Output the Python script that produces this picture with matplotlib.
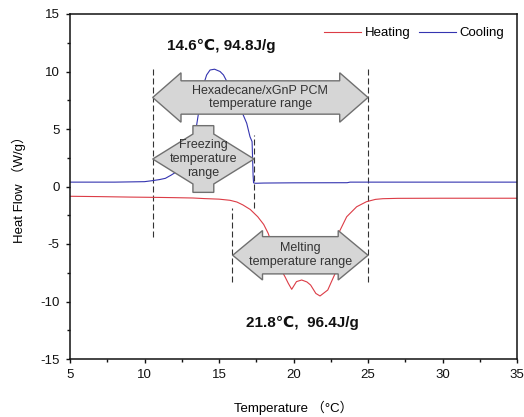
import matplotlib
matplotlib.use("Agg")
import matplotlib.pyplot as plt
from matplotlib.patches import Polygon
from matplotlib.ticker import MultipleLocator

plt.rcParams['font.family'] = ['Liberation Sans', 'DejaVu Sans', 'Noto Sans CJK SC']
plt.rcParams['axes.unicode_minus'] = False

# ---- data ----
cool_T = [5.0, 7.0, 8.0, 9.0, 10.0, 10.48, 11.0, 11.4, 11.8, 12.16, 12.5, 12.9, 13.2, 13.39,
          13.5, 13.7, 13.9, 14.17, 14.4, 14.7, 15.07, 15.3, 15.7, 16.1, 16.5, 16.86, 17.08,
          17.22, 17.26, 17.29, 17.32, 17.45, 18.0, 20.0, 23.6, 23.8, 27.0, 31.0, 35.0]
cool_HF = [0.38, 0.38, 0.38, 0.40, 0.42, 0.50, 0.60, 0.71, 1.00, 1.29, 1.8, 2.8, 3.7, 4.48,
           5.35, 7.0, 8.6, 9.70, 10.13, 10.2, 10.0, 9.70, 8.7, 7.7, 6.6, 5.5, 4.33,
           3.9, 2.2, 0.9, 0.32, 0.28, 0.30, 0.32, 0.33, 0.38, 0.38, 0.38, 0.38]

heat_T = [5.0, 7.0, 9.0, 11.0, 12.0, 13.25, 14.0, 15.0, 15.74, 16.2, 16.6, 17.1, 17.6, 18.0,
          18.3, 18.6, 18.9, 19.2, 19.45, 19.65, 19.88, 20.2, 20.55, 20.9, 21.15, 21.5, 21.78,
          22.05, 22.3, 22.55, 22.8, 22.95, 23.1, 23.57, 24.24, 24.9, 25.5, 26.0, 27.0, 30.0, 35.0]
heat_HF = [-0.85, -0.88, -0.92, -0.95, -0.97, -1.0, -1.05, -1.1, -1.2, -1.35, -1.6, -2.0, -2.63,
           -3.3, -4.07, -5.2, -6.4, -7.3, -7.9, -8.42, -8.94, -8.27, -8.13, -8.3, -8.57, -9.3,
           -9.52, -9.25, -9.0, -8.27, -7.55, -5.6, -3.87, -2.63, -1.76, -1.32, -1.12, -1.06,
           -1.03, -1.02, -1.02]

# annotation ranges (temperature) and arrow centres (heat flow)
arrow_labels = ["Hexadecane/xGnP PCM\ntemperature range",
                "Freezing\ntemperature\nrange",
                "Melting\ntemperature range"]
arrow_T0 = [10.55, 10.55, 15.92]
arrow_T1 = [25.0, 17.35, 25.0]
arrow_y = [7.74, 2.39, -5.98]
arrow_head_half = [2.15, 2.17, 2.15]
arrow_shaft_half = [1.45, 2.9, 1.62]
arrow_head_len = [1.9, 2.7, 2.0]

vline_T = [10.55, 17.35, 15.9, 25.0]
vline_lo = [-4.4, -1.9, -8.3, -8.3]
vline_hi = [10.4, 4.5, -1.9, 10.4]

peak_labels = ["14.6\u2103, 94.8J/g", "21.8\u2103,  96.4J/g"]
peak_T = [15.17, 20.57]
peak_HF = [12.2, -11.87]

fig = plt.figure(figsize=(5.24, 4.17), dpi=100)
ax = fig.add_axes([70/524, 1-359/417, 447/524, 345/417])

red = '#dc3c46'
blue = '#3434b0'
ax.plot(heat_T, heat_HF, color=red, lw=0.8, label='Heating', zorder=2)
ax.plot(cool_T, cool_HF, color=blue, lw=0.8, label='Cooling', zorder=2)

for t, lo, hi in zip(vline_T, vline_lo, vline_hi):
    ax.plot([t, t], [lo, hi], color='#333333', lw=0.8, dashes=(5.4, 2.7), zorder=1)

for lab, t0, t1, yc, hh, sh, hl in zip(arrow_labels, arrow_T0, arrow_T1, arrow_y,
                                       arrow_head_half, arrow_shaft_half, arrow_head_len):
    verts = [(t0, yc), (t0 + hl, yc + hh), (t0 + hl, yc + sh), (t1 - hl, yc + sh),
             (t1 - hl, yc + hh), (t1, yc), (t1 - hl, yc - hh), (t1 - hl, yc - sh),
             (t0 + hl, yc - sh), (t0 + hl, yc - hh)]
    ax.add_patch(Polygon(verts, closed=True, facecolor='#d6d6d6', edgecolor='#707070',
                         lw=1.0, zorder=3))
    ax.text((t0 + t1) / 2, yc, lab, ha='center', va='center', fontsize=9,
            color='#333333', linespacing=1.2, zorder=4)

for lab, t, h in zip(peak_labels, peak_T, peak_HF):
    ax.text(t, h, lab, ha='center', va='center', fontsize=11, fontweight='bold',
            color='#111111', zorder=4)

ax.set_xlim(5, 35)
ax.set_ylim(-15, 15)
ax.xaxis.set_major_locator(MultipleLocator(5))
ax.xaxis.set_minor_locator(MultipleLocator(2.5))
ax.yaxis.set_major_locator(MultipleLocator(5))
ax.yaxis.set_minor_locator(MultipleLocator(2.5))
ax.tick_params(which='both', direction='out', top=False, right=False, labelsize=9.5,
               width=1.0, colors='#111111')
ax.tick_params(which='major', length=3, pad=4.5)
ax.tick_params(which='minor', length=2.2)
for s in ax.spines.values():
    s.set_linewidth(1.1)
    s.set_color('#111111')

ax.set_xlabel('Temperature \uff08\u00b0C\uff09', fontsize=9.5, labelpad=14)
ax.set_ylabel('Heat Flow \uff08W/g\uff09', fontsize=9.5, labelpad=10)

leg = ax.legend(loc='upper right', bbox_to_anchor=(0.99, 0.985), ncol=2, frameon=False,
                fontsize=9.5, handlelength=2.8, handletextpad=0.3, columnspacing=0.6,
                borderaxespad=0.2)

fig.savefig('out.png', dpi=100)
